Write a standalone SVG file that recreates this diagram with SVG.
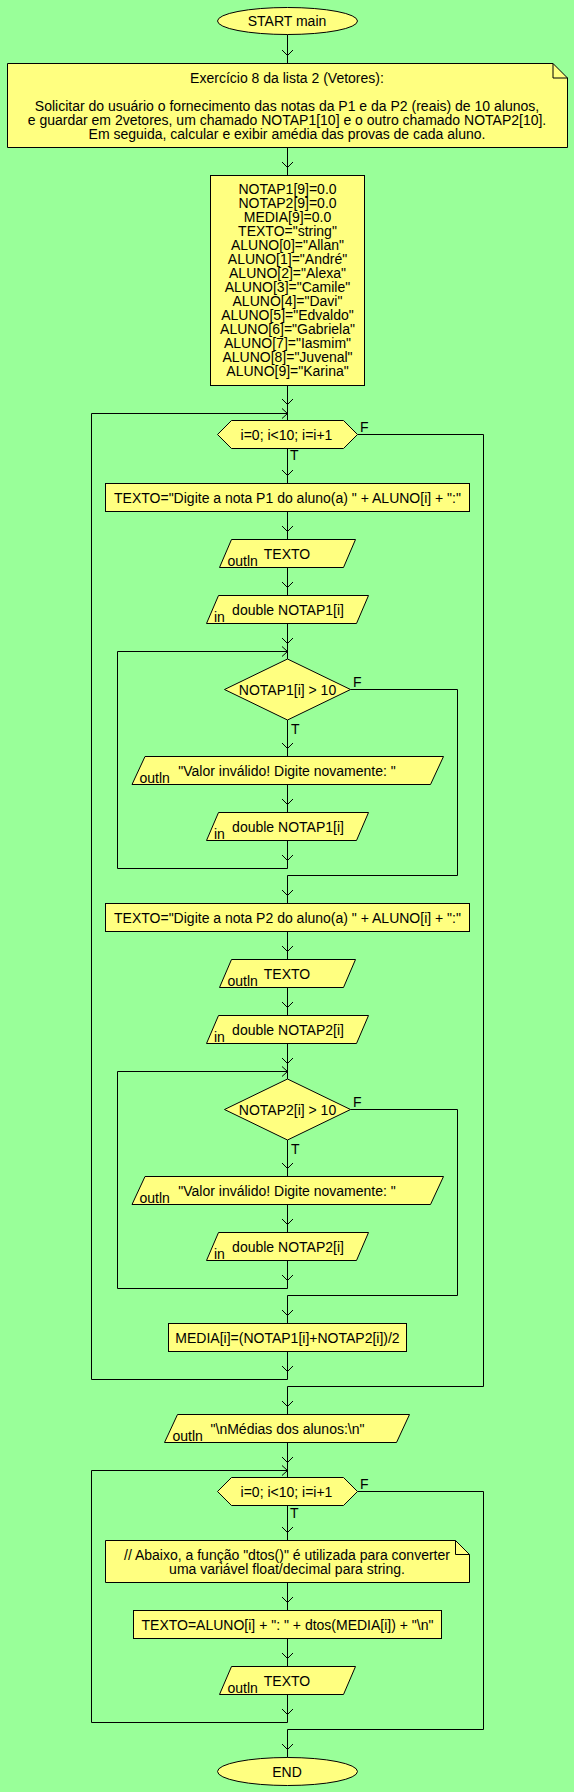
<svg xmlns="http://www.w3.org/2000/svg" xmlns:xlink="http://www.w3.org/1999/xlink" width="574" height="1792" viewBox="0 0 574 1792">
<style>
.s{fill:#FFFF80;stroke:#000;stroke-width:1}
.c{fill:none;stroke:#000;stroke-width:1}
text{font-family:"Liberation Sans",Arial,sans-serif;font-size:14px;fill:#000}
.m{text-anchor:middle}
</style>
<defs>
<path id="ad" d="M-5.5,-5.5L0,0L5.5,-5.5" fill="none" stroke="#000"/>
<path id="ar" d="M-5.5,-5L0,0L-5.5,5" fill="none" stroke="#000"/>
</defs>
<rect x="0" y="0" width="574" height="1792" fill="#99FF99"/>

<g id="connectors" class="c">
<path d="M287.5,34.5V63.5M287.5,147.5V175.5M287.5,385.5V420.5"/>
<path d="M287.5,1379.5H91.5V413.5H287.5"/>
<path d="M357.5,434.5H483.5V1386.5H287.5"/>
<path d="M287.5,448.5V483.5M287.5,511.5V539.5M287.5,567.5V595.5M287.5,623.5V659"/>
<path d="M287.5,868.5H117.5V651.5H287.5"/>
<path d="M350.5,689.5H457.5V875.5H287.5"/>
<path d="M287.5,720V756.5M287.5,784.5V812.5M287.5,840.5V868.5"/>
<path d="M287.5,875.5V903.5M287.5,931.5V959.5M287.5,987.5V1015.5M287.5,1043.5V1079"/>
<path d="M287.5,1288.5H117.5V1071.5H287.5"/>
<path d="M350.5,1109.5H457.5V1295.5H287.5"/>
<path d="M287.5,1140V1176.5M287.5,1204.5V1232.5M287.5,1260.5V1288.5"/>
<path d="M287.5,1295.5V1323.5M287.5,1351.5V1379.5"/>
<path d="M287.5,1386.5V1414.5M287.5,1442.5V1477.5"/>
<path d="M287.5,1722.5H91.5V1470.5H287.5"/>
<path d="M357.5,1491.5H483.5V1729.5H287.5"/>
<path d="M287.5,1505.5V1540.5M287.5,1582.5V1610.5M287.5,1638.5V1666.5M287.5,1694.5V1722.5"/>
<path d="M287.5,1729.5V1757.5"/>
<use xlink:href="#ad" href="#ad" x="287.5" y="55.5"/>
<use xlink:href="#ad" href="#ad" x="287.5" y="167.5"/>
<use xlink:href="#ad" href="#ad" x="287.5" y="404.5"/>
<use xlink:href="#ar" href="#ar" x="287.5" y="413.5"/>
<use xlink:href="#ad" href="#ad" x="287.5" y="475.5"/>
<use xlink:href="#ad" href="#ad" x="287.5" y="531.5"/>
<use xlink:href="#ad" href="#ad" x="287.5" y="587.5"/>
<use xlink:href="#ad" href="#ad" x="287.5" y="643.5"/>
<use xlink:href="#ar" href="#ar" x="287.5" y="651.5"/>
<use xlink:href="#ad" href="#ad" x="287.5" y="748.5"/>
<use xlink:href="#ad" href="#ad" x="287.5" y="804.5"/>
<use xlink:href="#ad" href="#ad" x="287.5" y="860.5"/>
<use xlink:href="#ad" href="#ad" x="287.5" y="895.5"/>
<use xlink:href="#ad" href="#ad" x="287.5" y="951.5"/>
<use xlink:href="#ad" href="#ad" x="287.5" y="1007.5"/>
<use xlink:href="#ad" href="#ad" x="287.5" y="1063.5"/>
<use xlink:href="#ar" href="#ar" x="287.5" y="1071.5"/>
<use xlink:href="#ad" href="#ad" x="287.5" y="1168.5"/>
<use xlink:href="#ad" href="#ad" x="287.5" y="1224.5"/>
<use xlink:href="#ad" href="#ad" x="287.5" y="1280.5"/>
<use xlink:href="#ad" href="#ad" x="287.5" y="1315.5"/>
<use xlink:href="#ad" href="#ad" x="287.5" y="1371.5"/>
<use xlink:href="#ad" href="#ad" x="287.5" y="1406.5"/>
<use xlink:href="#ad" href="#ad" x="287.5" y="1462.5"/>
<use xlink:href="#ar" href="#ar" x="287.5" y="1470.5"/>
<use xlink:href="#ad" href="#ad" x="287.5" y="1532.5"/>
<use xlink:href="#ad" href="#ad" x="287.5" y="1602.5"/>
<use xlink:href="#ad" href="#ad" x="287.5" y="1658.5"/>
<use xlink:href="#ad" href="#ad" x="287.5" y="1714.5"/>
<use xlink:href="#ad" href="#ad" x="287.5" y="1749.5"/>
</g>
<g id="labels">
<text x="360" y="432">F</text>
<text x="290" y="460">T</text>
<text x="353" y="686.5">F</text>
<text x="291" y="734">T</text>
<text x="353" y="1106.5">F</text>
<text x="291" y="1154">T</text>
<text x="360" y="1489">F</text>
<text x="290" y="1517.5">T</text>
</g>

<g id="start">
<ellipse class="s" cx="287.5" cy="21" rx="70" ry="13.5"/>
<text class="m" x="287" y="26">START main</text>
</g>

<g id="note1">
<path class="s" d="M7.5,63.5H553L567.5,78V147.5H7.5Z"/>
<path class="c" d="M553,63.5V78H567.5"/>
<text class="m" x="287" y="82.5">Exercício 8 da lista 2 (Vetores):</text>
<text class="m" x="287" y="110.5">Solicitar do usuário o fornecimento das notas da P1 e da P2 (reais) de 10 alunos,</text>
<text class="m" x="287" y="124.5">e guardar em 2vetores, um chamado NOTAP1[10] e o outro chamado NOTAP2[10].</text>
<text class="m" x="287" y="138.5">Em seguida, calcular e exibir amédia das provas de cada aluno.</text>
</g>

<g id="init">
<rect class="s" x="210.5" y="175.5" width="154" height="210"/>
<text class="m" x="287.5" y="194">NOTAP1[9]=0.0</text>
<text class="m" x="287.5" y="208">NOTAP2[9]=0.0</text>
<text class="m" x="287.5" y="222">MEDIA[9]=0.0</text>
<text class="m" x="287.5" y="236">TEXTO="string"</text>
<text class="m" x="287.5" y="250">ALUNO[0]="Allan"</text>
<text class="m" x="287.5" y="264">ALUNO[1]="André"</text>
<text class="m" x="287.5" y="278">ALUNO[2]="Alexa"</text>
<text class="m" x="287.5" y="292">ALUNO[3]="Camile"</text>
<text class="m" x="287.5" y="306">ALUNO[4]="Davi"</text>
<text class="m" x="287.5" y="320">ALUNO[5]="Edvaldo"</text>
<text class="m" x="287.5" y="334">ALUNO[6]="Gabriela"</text>
<text class="m" x="287.5" y="348">ALUNO[7]="Iasmim"</text>
<text class="m" x="287.5" y="362">ALUNO[8]="Juvenal"</text>
<text class="m" x="287.5" y="376">ALUNO[9]="Karina"</text>
</g>

<g id="for1">
<path class="s" d="M217.5,434.5L231.5,420.5H343.5L357.5,434.5L343.5,448.5H231.5Z"/>
<text class="m" x="286.5" y="439.5">i=0; i&lt;10; i=i+1</text>
</g>

<g id="assign1">
<rect class="s" x="105.5" y="483.5" width="364" height="28"/>
<text class="m" x="287.5" y="502.5">TEXTO="Digite a nota P1 do aluno(a) " + ALUNO[i] + ":"</text>
</g>

<g id="out1">
<path class="s" d="M231.5,539.5H355.5L343.5,567.5H219.5Z"/>
<text x="227.5" y="566">outln</text>
<text class="m" x="287" y="558.5">TEXTO</text>
</g>

<g id="in1">
<path class="s" d="M218.5,595.5H368.5L356.5,623.5H206.5Z"/>
<text x="214" y="622">in</text>
<text class="m" x="288" y="614.5">double NOTAP1[i]</text>
</g>

<g id="while1">
<path class="s" d="M287.5,659L350.5,689.5L287.5,720L224.5,689.5Z"/>
<text class="m" x="287.5" y="694.5">NOTAP1[i] &gt; 10</text>
</g>

<g id="out2">
<path class="s" d="M145,756.5H443.5L430.5,784.5H132Z"/>
<text x="139.5" y="783">outln</text>
<text class="m" x="287" y="775.5">"Valor inválido! Digite novamente: "</text>
</g>

<g id="in2">
<path class="s" d="M218.5,812.5H368.5L356.5,840.5H206.5Z"/>
<text x="214" y="839">in</text>
<text class="m" x="288" y="831.5">double NOTAP1[i]</text>
</g>

<g id="assign2">
<rect class="s" x="105.5" y="903.5" width="364" height="28"/>
<text class="m" x="287.5" y="922.5">TEXTO="Digite a nota P2 do aluno(a) " + ALUNO[i] + ":"</text>
</g>

<g id="out3">
<path class="s" d="M231.5,959.5H355.5L343.5,987.5H219.5Z"/>
<text x="227.5" y="986">outln</text>
<text class="m" x="287" y="978.5">TEXTO</text>
</g>

<g id="in3">
<path class="s" d="M218.5,1015.5H368.5L356.5,1043.5H206.5Z"/>
<text x="214" y="1042">in</text>
<text class="m" x="288" y="1034.5">double NOTAP2[i]</text>
</g>

<g id="while2">
<path class="s" d="M287.5,1079L350.5,1109.5L287.5,1140L224.5,1109.5Z"/>
<text class="m" x="287.5" y="1114.5">NOTAP2[i] &gt; 10</text>
</g>

<g id="out4">
<path class="s" d="M145,1176.5H443.5L430.5,1204.5H132Z"/>
<text x="139.5" y="1203">outln</text>
<text class="m" x="287" y="1195.5">"Valor inválido! Digite novamente: "</text>
</g>

<g id="in4">
<path class="s" d="M218.5,1232.5H368.5L356.5,1260.5H206.5Z"/>
<text x="214" y="1259">in</text>
<text class="m" x="288" y="1251.5">double NOTAP2[i]</text>
</g>

<g id="assign3">
<rect class="s" x="168.5" y="1323.5" width="238" height="28"/>
<text class="m" x="287.5" y="1342.5">MEDIA[i]=(NOTAP1[i]+NOTAP2[i])/2</text>
</g>

<g id="out5">
<path class="s" d="M177.5,1414.5H409.5L396.5,1442.5H164.5Z"/>
<text x="172.5" y="1441">outln</text>
<text class="m" x="287.5" y="1433.5">"\nMédias dos alunos:\n"</text>
</g>

<g id="for2">
<path class="s" d="M217.5,1491.5L231.5,1477.5H343.5L357.5,1491.5L343.5,1505.5H231.5Z"/>
<text class="m" x="286.5" y="1496.5">i=0; i&lt;10; i=i+1</text>
</g>

<g id="note2">
<path class="s" d="M105.5,1540.5H455.5L469.5,1554.5V1582.5H105.5Z"/>
<path class="c" d="M455.5,1540.5V1554.5H469.5"/>
<text class="m" x="287" y="1560">// Abaixo, a função "dtos()" é utilizada para converter</text>
<text class="m" x="287" y="1574">uma variável float/decimal para string.</text>
</g>

<g id="assign4">
<rect class="s" x="133.5" y="1610.5" width="308" height="28"/>
<text class="m" x="287.5" y="1629.5">TEXTO=ALUNO[i] + ": " + dtos(MEDIA[i]) + "\n"</text>
</g>

<g id="out6">
<path class="s" d="M231.5,1666.5H355.5L343.5,1694.5H219.5Z"/>
<text x="227.5" y="1693">outln</text>
<text class="m" x="287" y="1685.5">TEXTO</text>
</g>

<g id="end">
<ellipse class="s" cx="287.5" cy="1771.5" rx="70" ry="14"/>
<text class="m" x="287" y="1776.5">END</text>
</g>
</svg>
